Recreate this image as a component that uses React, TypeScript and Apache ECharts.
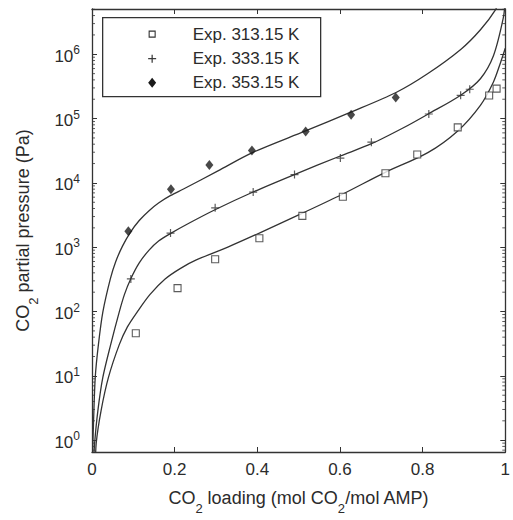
import React, { useEffect, useRef } from "react";
import * as echarts from "echarts";

// ---- data ----
const xTickValues = [0, 0.2, 0.4, 0.6, 0.8, 1];
const seriesNames = ["Exp. 313.15 K", "Exp. 333.15 K", "Exp. 353.15 K"];

// experimental points (CO2 loading, CO2 partial pressure in Pa)
const exp313X = [0.106, 0.207, 0.298, 0.405, 0.509, 0.607, 0.71, 0.787, 0.885, 0.961, 0.979];
const exp313Y = [46, 231, 650, 1380, 3070, 6100, 14100, 27600, 73000, 229000, 293000];
const exp333X = [0.094, 0.19, 0.298, 0.39, 0.49, 0.601, 0.676, 0.815, 0.892, 0.914];
const exp333Y = [321, 1660, 4100, 7200, 13500, 24300, 43000, 118000, 230000, 286000];
const exp353X = [0.088, 0.191, 0.284, 0.387, 0.517, 0.627, 0.735];
const exp353Y = [1765, 7950, 19000, 32000, 63000, 115000, 213000];

// model curves
const model313X = [0.0083, 0.0102, 0.0221, 0.0398, 0.066, 0.0857, 0.1095, 0.1405, 0.1769, 0.2143, 0.2524, 0.3286, 0.4048, 0.5119, 0.6071, 0.7095, 0.8126, 0.885, 0.9398, 0.9714, 0.9874, 1.0];
const model313Y = [0.37, 0.9, 2.91, 9.45, 30.6, 57.7, 98.9, 185, 321, 470, 634, 1005, 1660, 3450, 6730, 14600, 29600, 64400, 161000, 372000, 708000, 1240000];
const model333X = [0.0031, 0.0064, 0.0143, 0.0262, 0.0452, 0.066, 0.0786, 0.0936, 0.1143, 0.1381, 0.1619, 0.1905, 0.2333, 0.2976, 0.3898, 0.4898, 0.6007, 0.6762, 0.7571, 0.8126, 0.8921, 0.9398, 0.9714, 0.9952, 1.0];
const model333Y = [0.37, 0.9, 2.91, 9.45, 30.6, 98.9, 185, 321, 571, 903, 1262, 1644, 2340, 3830, 7230, 13500, 26200, 40700, 74100, 117000, 231000, 417000, 948000, 3670000, 7000000];
const model353X = [0.0007, 0.0036, 0.0079, 0.0155, 0.0262, 0.0445, 0.0571, 0.0738, 0.0929, 0.1143, 0.1381, 0.1619, 0.1905, 0.2214, 0.3048, 0.3881, 0.5167, 0.6262, 0.7357, 0.8119, 0.8929, 0.9405, 0.9762, 0.9857];
const model353Y = [0.44, 1.82, 9.55, 30.6, 98, 325, 591, 1040, 1702, 2600, 3700, 4910, 6390, 8040, 15400, 29600, 64400, 126000, 255000, 498000, 1200000, 2430000, 4920000, 7000000];

// minor tick values of the log axis (2..9 per decade)
const minorMultipliers = [2, 3, 4, 5, 6, 7, 8, 9];
const decades = [0.1, 1, 10, 100, 1000, 10000, 100000, 1000000];

const Y_MIN = 0.655;
const Y_MAX = 5.06e6;

const FONT = "'Liberation Sans', Arial, Helvetica, sans-serif";
const INK = "#2b2b2b";
const LINE = "#333";

const pairs = (xs: number[], ys: number[]) => xs.map((x, i) => [x, ys[i]]);

const PLUS_PATH = "path://M3.4,0H4.6V3.4H8V4.6H4.6V8H3.4V4.6H0V3.4H3.4Z";

export default function App() {
  const ref = useRef<HTMLDivElement>(null);

  useEffect(() => {
    if (!ref.current) return;
    const chart = echarts.init(ref.current, undefined, { renderer: "svg" });

    const minorTicks: number[][] = [];
    decades.forEach((d) =>
      minorMultipliers.forEach((m) => {
        const v = d * m;
        if (v > Y_MIN && v < Y_MAX) minorTicks.push([0, v]);
      })
    );

    const yLabelFormatter = (v: number) => {
      const e = Math.log10(v);
      const r = Math.round(e);
      if (Math.abs(e - r) > 1e-6) return "";
      return `{b|10}{s|${r}}`;
    };

    const yAxisCommon = {
      type: "log",
      logBase: 10,
      min: Y_MIN,
      max: Y_MAX,
      axisLine: { show: true, onZero: false, lineStyle: { color: LINE, width: 1.3 } },
      axisTick: { show: true, inside: true, length: 5, lineStyle: { color: LINE, width: 1 } },
      splitLine: { show: false },
    };

    const lineSeries = (name: string, xs: number[], ys: number[]) => ({
      type: "line",
      name,
      data: pairs(xs, ys),
      showSymbol: false,
      smooth: 0.3,
      lineStyle: { color: LINE, width: 1.3 },
      clip: true,
      z: 2,
    });

    const option: any = {
      animation: false,
      backgroundColor: "#fff",
      grid: { left: 92, right: 1, top: 9, bottom: 61 },
      xAxis: [
        {
          type: "value",
          min: 0,
          max: 1,
          interval: 0.2,
          position: "bottom",
          axisLine: { show: true, onZero: false, lineStyle: { color: LINE, width: 1.3 } },
          axisTick: { show: true, inside: true, length: 5, lineStyle: { color: LINE, width: 1 } },
          splitLine: { show: false },
          axisLabel: {
            margin: 9,
            fontSize: 17,
            color: INK,
            fontFamily: FONT,
            formatter: (v: number) => (xTickValues.some((t) => Math.abs(t - v) < 1e-9) ? String(+v.toFixed(1)) : ""),
          },
          name: "{a|CO}{s|2}{a| loading (mol CO}{s|2}{a|/mol AMP)}",
          nameLocation: "middle",
          nameGap: 29,
          nameTextStyle: {
            rich: {
              a: { fontSize: 18, fontFamily: FONT, color: INK, lineHeight: 34 },
              s: { fontSize: 13, fontFamily: FONT, color: INK, lineHeight: 13, verticalAlign: "bottom" },
            },
          },
        },
        {
          type: "value",
          min: 0,
          max: 1,
          interval: 0.2,
          position: "top",
          axisLine: { show: true, onZero: false, lineStyle: { color: LINE, width: 1.3 } },
          axisTick: { show: true, inside: true, length: 5, lineStyle: { color: LINE, width: 1 } },
          axisLabel: { show: false },
          splitLine: { show: false },
        },
      ],
      yAxis: [
        {
          ...yAxisCommon,
          position: "left",
          axisLabel: {
            margin: 12,
            showMinLabel: false,
            showMaxLabel: false,
            formatter: yLabelFormatter,
            rich: {
              b: { fontSize: 17, fontFamily: FONT, color: INK, lineHeight: 26, padding: [4, 0, 0, 0] },
              s: { fontSize: 12, fontFamily: FONT, color: INK, lineHeight: 12, verticalAlign: "top", padding: [3, 0, 0, 0] },
            },
          },
          name: "{a|CO}{s|2}{a| partial pressure (Pa)}",
          nameLocation: "middle",
          nameGap: 52,
          nameTextStyle: {
            rich: {
              a: { fontSize: 18, fontFamily: FONT, color: INK, lineHeight: 34 },
              s: { fontSize: 13, fontFamily: FONT, color: INK, lineHeight: 13, verticalAlign: "bottom" },
            },
          },
        },
        {
          ...yAxisCommon,
          position: "right",
          axisLabel: { show: false },
        },
      ],
      series: [
        lineSeries("model313", model313X, model313Y),
        lineSeries("model333", model333X, model333Y),
        lineSeries("model353", model353X, model353Y),
        {
          type: "scatter",
          name: seriesNames[0],
          data: pairs(exp313X, exp313Y),
          symbol: "rect",
          symbolSize: 7,
          itemStyle: { color: "#fff", borderColor: LINE, borderWidth: 1.1 },
          z: 3,
        },
        {
          type: "scatter",
          name: seriesNames[1],
          data: pairs(exp333X, exp333Y),
          symbol: PLUS_PATH,
          symbolSize: 8,
          itemStyle: { color: LINE },
          z: 3,
        },
        {
          type: "scatter",
          name: seriesNames[2],
          data: pairs(exp353X, exp353Y),
          symbol: "diamond",
          symbolSize: [8, 10],
          itemStyle: { color: "#1a1a1a" },
          z: 3,
        },
        {
          type: "custom",
          name: "minorTicks",
          data: minorTicks,
          silent: true,
          z: 4,
          renderItem: (_params: any, api: any) => {
            const v = api.value(1);
            const pl = api.coord([0, v]);
            const pr = api.coord([1, v]);
            const st = { stroke: LINE, lineWidth: 0.8 };
            return {
              type: "group",
              children: [
                { type: "line", shape: { x1: pl[0], y1: pl[1], x2: pl[0] + 3, y2: pl[1] }, style: st },
                { type: "line", shape: { x1: pr[0], y1: pr[1], x2: pr[0] - 3, y2: pr[1] }, style: st },
              ],
            };
          },
        },
      ],
      graphic: [
        {
          type: "group",
          left: 102,
          top: 17,
          z: 10,
          children: [
            { type: "rect", shape: { x: 0, y: 0, width: 218, height: 79 }, style: { fill: "#fff", stroke: LINE, lineWidth: 1.3 } },
            { type: "rect", shape: { x: 46.5, y: 13.5, width: 6, height: 6 }, style: { fill: "#fff", stroke: LINE, lineWidth: 1.1 } },
            { type: "rect", shape: { x: 45.5, y: 40.4, width: 8, height: 1.2 }, style: { fill: LINE } },
            { type: "rect", shape: { x: 48.9, y: 37, width: 1.2, height: 8 }, style: { fill: LINE } },
            { type: "polygon", shape: { points: [[49.5, 60], [53.5, 65], [49.5, 70], [45.5, 65]] }, style: { fill: "#1a1a1a" } },
            { type: "text", x: 90, y: 17, style: { text: seriesNames[0], font: `17px ${FONT}`, fill: INK, verticalAlign: "middle" } },
            { type: "text", x: 90, y: 41, style: { text: seriesNames[1], font: `17px ${FONT}`, fill: INK, verticalAlign: "middle" } },
            { type: "text", x: 90, y: 65, style: { text: seriesNames[2], font: `17px ${FONT}`, fill: INK, verticalAlign: "middle" } },
          ],
        },
      ],
    };

    chart.setOption(option);
    return () => chart.dispose();
  }, []);

  return (
    <div
      ref={ref}
      style={{ position: "fixed", left: 0, top: 0, width: 513, height: 520, background: "#fff" }}
    />
  );
}
